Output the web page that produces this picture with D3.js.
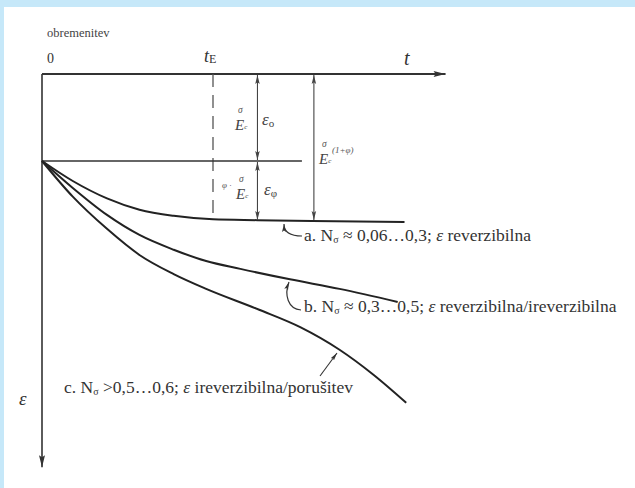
<!DOCTYPE html>
<html>
<head>
<meta charset="utf-8">
<script src="https://cdn.jsdelivr.net/npm/d3@7"></script>
<style>
  body { margin: 0; background: #fff; }
  svg { display: block; }
</style>
</head>
<body>
<svg id="chart" width="635" height="488" font-family="'Liberation Serif', 'DejaVu Serif', serif"></svg>
<script>
// Time is measured in units of t_E, strain in units of the elastic strain σ/E_c.
const curveA = [[0, 1.0], [0.18, 1.23], [0.38, 1.43], [0.57, 1.56], [0.77, 1.63], [1.0, 1.67], [1.26, 1.68], [1.58, 1.69], [2.12, 1.70]];
const curveB = [[0, 1.0], [0.18, 1.31], [0.38, 1.62], [0.57, 1.85], [0.77, 2.02], [0.96, 2.15], [1.16, 2.24], [1.45, 2.36], [1.74, 2.47], [2.08, 2.62]];
const curveC = [[0, 1.0], [0.18, 1.41], [0.38, 1.78], [0.57, 2.08], [0.77, 2.30], [0.96, 2.47], [1.27, 2.71], [1.51, 2.91], [1.74, 3.17], [1.94, 3.46], [2.13, 3.78]];
const timeTicks = [0, 1];
const timeTickLabels = ["0", "t|E"];
const elasticStrain = 1.0;   // ε_o = σ/E_c
const creepCoeff = 0.69;     // φ
const tMax = 2.36, epsMax = 4.52;

const svg = d3.select("#chart");
const W = 635, H = 488;
const ink = "#333";

// page frame
svg.append("rect").attr("width", W).attr("height", H).attr("fill", "#c6e8f9");
svg.append("rect").attr("x", 4).attr("y", 7).attr("width", W - 4).attr("height", H - 7).attr("fill", "#fff");

const x = d3.scaleLinear().domain([0, 1]).range([42, 213]);
const y = d3.scaleLinear().domain([0, 1]).range([74, 161]);

// arrowheads
const defs = svg.append("defs");
defs.append("marker").attr("id", "axisHead")
  .attr("viewBox", "0 0 12 8").attr("refX", 12).attr("refY", 4)
  .attr("markerUnits", "userSpaceOnUse").attr("markerWidth", 13).attr("markerHeight", 8)
  .attr("orient", "auto")
  .append("path").attr("d", "M0,1 L12,4 L0,7 L2,4 Z").attr("fill", ink);
defs.append("marker").attr("id", "dimHead")
  .attr("viewBox", "0 0 10 6").attr("refX", 10).attr("refY", 3)
  .attr("markerUnits", "userSpaceOnUse").attr("markerWidth", 9).attr("markerHeight", 6)
  .attr("orient", "auto-start-reverse")
  .append("path").attr("d", "M0,0.5 L10,3 L0,5.5 L2,3 Z").attr("fill", "#444");
defs.append("marker").attr("id", "smallHead")
  .attr("viewBox", "0 0 10 6").attr("refX", 10).attr("refY", 3)
  .attr("markerUnits", "userSpaceOnUse").attr("markerWidth", 8).attr("markerHeight", 6)
  .attr("orient", "auto")
  .append("path").attr("d", "M0,0.5 L10,3 L0,5.5 L2,3 Z").attr("fill", ink);

// axes
svg.append("line")
  .attr("x1", x(0)).attr("y1", y(0)).attr("x2", x(tMax)).attr("y2", y(0))
  .attr("stroke", ink).attr("stroke-width", 1.8).attr("marker-end", "url(#axisHead)");
svg.append("line")
  .attr("x1", x(0)).attr("y1", y(0)).attr("x2", x(0)).attr("y2", y(epsMax))
  .attr("stroke", ink).attr("stroke-width", 1.6).attr("marker-end", "url(#axisHead)");

// time tick labels above the axis
timeTicks.forEach((t, i) => {
  const [main, sub] = timeTickLabels[i].split("|");
  if (!sub) {
    svg.append("text").attr("x", x(t) + 5).attr("y", 63).attr("font-size", 14).attr("fill", ink).text(main);
  } else {
    const tx = svg.append("text").attr("x", x(t) - 9).attr("y", 62).attr("fill", ink);
    tx.append("tspan").attr("font-size", 18).attr("font-style", "italic").text(main);
    tx.append("tspan").attr("font-size", 12).attr("dy", 1).text(sub);
  }
});

svg.append("text").attr("x", 47).attr("y", 37).attr("font-size", 12.5).attr("fill", "#444").text("obremenitev");
svg.append("text").attr("x", 404).attr("y", 65).attr("font-size", 20).attr("font-style", "italic").attr("fill", ink).text("t");
svg.append("text").attr("x", 19).attr("y", 405).attr("font-size", 19).attr("font-style", "italic").attr("fill", ink).text("ε");

// t_E marker
svg.append("line")
  .attr("x1", x(1)).attr("y1", y(0)).attr("x2", x(1)).attr("y2", y(1 + creepCoeff) - 3)
  .attr("stroke", "#555").attr("stroke-width", 1.3).attr("stroke-dasharray", "13,8");

// instantaneous (elastic) strain level
svg.append("line")
  .attr("x1", x(0)).attr("y1", y(elasticStrain)).attr("x2", x(1.52)).attr("y2", y(elasticStrain))
  .attr("stroke", ink).attr("stroke-width", 1.4);

// strain curves
const line = d3.line().x(d => x(d[0])).y(d => y(d[1])).curve(d3.curveMonotoneX);
[curveA, curveB, curveC].forEach(c => {
  svg.append("path").attr("d", line(c)).attr("fill", "none")
    .attr("stroke", "#222").attr("stroke-width", 2);
});

// dimension arrows
function dimArrow(t, e0, e1) {
  svg.append("line")
    .attr("x1", x(t)).attr("y1", y(e0) + 1).attr("x2", x(t)).attr("y2", y(e1) - 1)
    .attr("stroke", "#444").attr("stroke-width", 1.1)
    .attr("marker-start", "url(#dimHead)").attr("marker-end", "url(#dimHead)");
}
dimArrow(1.26, 0, elasticStrain);
dimArrow(1.26, elasticStrain, 1 + creepCoeff);
dimArrow(1.59, 0, 1 + creepCoeff);

// σ/E_c symbol
function sigmaOverE(px, py, prefix, suffix) {
  if (prefix) {
    svg.append("text").attr("x", px - 14).attr("y", py - 11).attr("font-size", 9).attr("font-style", "italic").attr("fill", "#555").text(prefix);
  }
  svg.append("text").attr("x", px + 3).attr("y", py - 17).attr("font-size", 9.5).attr("font-style", "italic").attr("fill", "#555").text("σ");
  const e = svg.append("text").attr("x", px).attr("y", py).attr("font-size", 15).attr("font-style", "italic").attr("fill", "#444");
  e.append("tspan").text("E");
  e.append("tspan").attr("font-size", 7).attr("dy", -1).text("c");
  if (suffix) {
    svg.append("text").attr("x", px + 13).attr("y", py - 11).attr("font-size", 9).attr("font-style", "italic").attr("fill", "#555").text(suffix);
  }
}
sigmaOverE(235, 130);
sigmaOverE(236, 199, "φ ·");
sigmaOverE(319, 164, null, "(1+φ)");

function epsLabel(px, py, sub) {
  const t = svg.append("text").attr("x", px).attr("y", py).attr("fill", "#444");
  t.append("tspan").attr("font-size", 17).attr("font-style", "italic").text("ε");
  t.append("tspan").attr("font-size", 11).attr("dy", 2).text(sub);
}
epsLabel(262, 125, "o");
epsLabel(264, 195, "φ");

// curve labels
function curveLabel(px, py, prefix, rel, rest) {
  const t = svg.append("text").attr("x", px).attr("y", py).attr("font-size", 17.5).attr("fill", ink);
  t.append("tspan").text(prefix + "N");
  t.append("tspan").attr("font-size", 10).attr("dy", 2).text("σ");
  t.append("tspan").attr("dy", -2).text(" " + rel);
  t.append("tspan").attr("font-style", "italic").text(" ε");
  t.append("tspan").text(" " + rest);
}
curveLabel(304, 241, "a. ", "≈ 0,06…0,3;", "reverzibilna");
curveLabel(304, 312, "b. ", "≈ 0,3…0,5;", "reverzibilna/ireverzibilna");
curveLabel(64, 393, "c. ", ">0,5…0,6;", "ireverzibilna/porušitev");

// pointers from labels to curves
svg.append("path").attr("d", "M302,236 C291,236 284,232 284,224")
  .attr("fill", "none").attr("stroke", ink).attr("stroke-width", 1.2).attr("marker-end", "url(#smallHead)");
svg.append("path").attr("d", "M301,310 C288,309 284,295 289,282")
  .attr("fill", "none").attr("stroke", ink).attr("stroke-width", 1.2).attr("marker-end", "url(#smallHead)");
svg.append("path").attr("d", "M320,376 L337,353")
  .attr("fill", "none").attr("stroke", ink).attr("stroke-width", 1.1).attr("marker-end", "url(#smallHead)");
</script>
</body>
</html>
